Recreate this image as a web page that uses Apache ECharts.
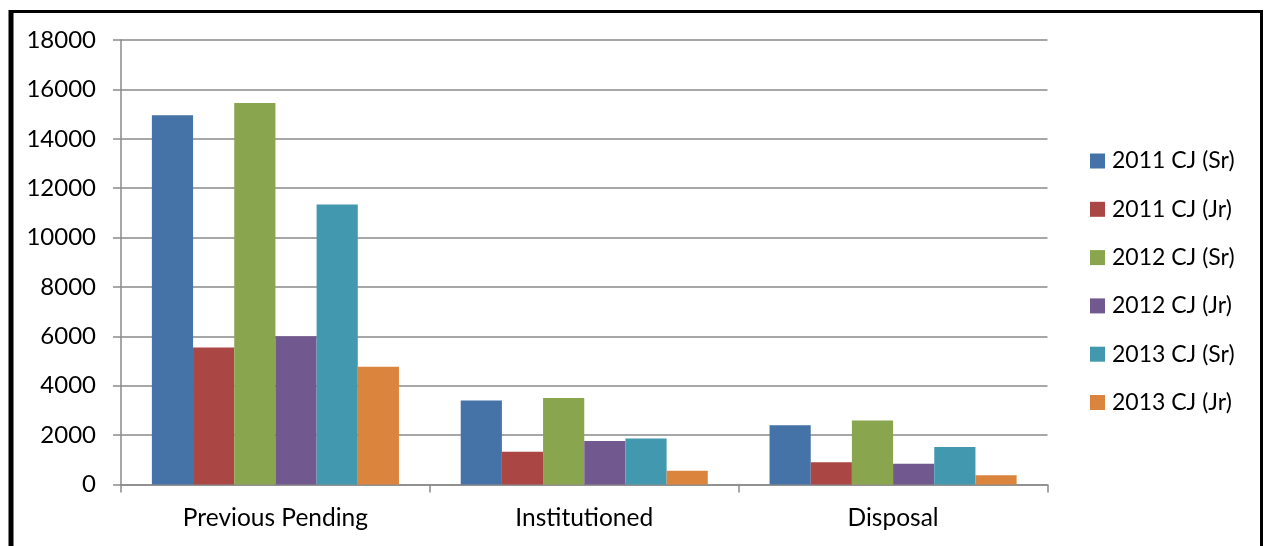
<!DOCTYPE html>
<html>
<head>
<meta charset="utf-8">
<style>
  html, body { margin: 0; padding: 0; background: #ffffff; }
  #chart { width: 1264px; height: 546px; }
</style>
<script src="https://cdn.jsdelivr.net/npm/echarts@6/dist/echarts.min.js"></script>
</head>
<body>
<div id="chart"></div>
<script>
// Case counts by stage, per year and court level
const categories = ['Previous Pending', 'Institutioned', 'Disposal'];
const seriesNames = ['2011 CJ (Sr)', '2011 CJ (Jr)', '2012 CJ (Sr)', '2012 CJ (Jr)', '2013 CJ (Sr)', '2013 CJ (Jr)'];
const cj2011Sr = [14950, 3400, 2400];
const cj2011Jr = [5550, 1330, 900];
const cj2012Sr = [15450, 3500, 2590];
const cj2012Jr = [6000, 1760, 840];
const cj2013Sr = [11340, 1860, 1520];
const cj2013Jr = [4770, 560, 370];
const seriesColors = ['#4572A7', '#AA4643', '#89A54E', '#71588F', '#4198AF', '#DB843D'];
const yTicks = [0, 2000, 4000, 6000, 8000, 10000, 12000, 14000, 16000, 18000];

const seriesValues = [cj2011Sr, cj2011Jr, cj2012Sr, cj2012Jr, cj2013Sr, cj2013Jr];
const FONT = 'Lato';
const gridColor = '#8a8a8a';

const chart = echarts.init(document.getElementById('chart'), null, { renderer: 'canvas' });

chart.setOption({
  animation: false,
  backgroundColor: '#ffffff',
  color: seriesColors,
  textStyle: { fontFamily: FONT },
  grid: { left: 121, right: 216.5, top: 40, bottom: 61.5, containLabel: false },
  legend: {
    orient: 'vertical',
    left: 1085,
    top: 144,
    itemWidth: 15,
    itemHeight: 15,
    itemGap: 24.3,
    icon: 'rect',
    textStyle: { fontFamily: FONT, fontSize: 23, color: '#000', lineHeight: 24, padding: [0, 0, 0, 2] },
    data: seriesNames
  },
  xAxis: {
    type: 'category',
    data: categories,
    axisLine: { show: true, lineStyle: { color: gridColor, width: 1.5 } },
    axisTick: { show: true, length: 8, alignWithLabel: false, lineStyle: { color: gridColor, width: 1.5 } },
    axisLabel: { fontFamily: FONT, fontSize: 24.5, color: '#000', margin: 21 },
    splitLine: { show: false }
  },
  yAxis: {
    type: 'value',
    min: yTicks[0],
    max: yTicks[yTicks.length - 1],
    interval: yTicks[1] - yTicks[0],
    axisLine: { show: true, lineStyle: { color: gridColor, width: 1.5 } },
    axisTick: { show: true, length: 8, lineStyle: { color: gridColor, width: 1.5 } },
    axisLabel: {
      fontFamily: FONT, fontSize: 24, color: '#000', margin: 25,
      formatter: (v) => String(v)
    },
    splitLine: { show: true, lineStyle: { color: gridColor, width: 1.5 } }
  },
  series: seriesNames.map((name, i) => ({
    name: name,
    type: 'bar',
    data: seriesValues[i],
    barGap: '0%',
    barCategoryGap: '20%',
    itemStyle: { color: seriesColors[i] }
  })),
  graphic: [
    {
      type: 'rect',
      silent: true,
      shape: { x: 11.5, y: 11.5, width: 1250, height: 600 },
      style: { fill: 'none', stroke: '#000', lineWidth: 3 },
      z: 100
    },
    {
      type: 'rect',
      silent: true,
      shape: { x: 8.5, y: 10, width: 5, height: 600 },
      style: { fill: '#000' },
      z: 100
    }
  ]
});
</script>
</body>
</html>
